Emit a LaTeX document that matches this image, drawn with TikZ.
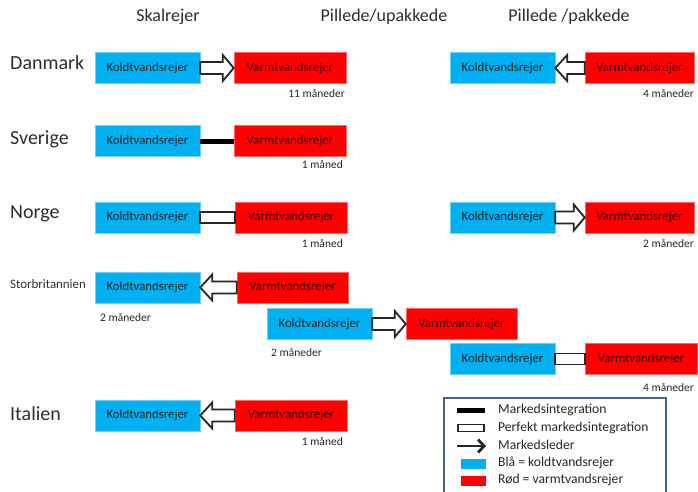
\documentclass[tikz,border=0pt]{standalone}
\usepackage{fontspec}
\setmainfont{Carlito}
\usetikzlibrary{calc,arrows.meta}
\definecolor{cold}{RGB}{0,176,240}
\definecolor{warm}{RGB}{255,0,0}
\definecolor{legline}{RGB}{65,100,150}
\definecolor{hdr}{RGB}{45,45,45}
\tikzset{
  cbox/.style={fill=cold, draw=cold!60!white, line width=0.5pt, minimum width=105pt, minimum height=31pt, inner sep=0pt, font=\fontsize{12.8}{14}\selectfont, text=black!85},
  wbox/.style={fill=warm, draw=warm!60!white, line width=0.5pt, minimum width=112pt, minimum height=31pt, inner sep=0pt, font=\fontsize{12.8}{14}\selectfont, text=black!75!red},
  hdrtext/.style={font=\fontsize{18}{20}\selectfont, text=hdr, inner sep=0pt},
  country/.style={font=\fontsize{20}{22}\selectfont, text=hdr, anchor=west, inner sep=0pt},
  months/.style={font=\fontsize{11.5}{13}\selectfont, text=black!85, inner sep=0pt},
  legtext/.style={font=\fontsize{13.6}{15}\selectfont, text=black!85, anchor=west, inner sep=0pt},
  blockarrow/.style={draw=black!85, fill=white, line width=1.8pt, line join=miter},
  perfect/.style={draw=black!85, fill=white, line width=1.8pt},
  integr/.style={draw=black, line width=5pt},
}
\newcommand{\arrright}[2]{%
  \draw[blockarrow] let \p1=(#1.east), \p2=(#2.west) in
    (\x1,\y1+6pt) -- (\x2-11pt,\y1+6pt) -- (\x2-11pt,\y1+13pt) -- (\x2,\y1)
    -- (\x2-11pt,\y1-13pt) -- (\x2-11pt,\y1-6pt) -- (\x1,\y1-6pt) -- cycle;}
\newcommand{\arrleft}[2]{%
  \draw[blockarrow] let \p1=(#1.east), \p2=(#2.west) in
    (\x2,\y1+6pt) -- (\x1+12pt,\y1+6pt) -- (\x1+12pt,\y1+13pt) -- (\x1,\y1)
    -- (\x1+12pt,\y1-13pt) -- (\x1+12pt,\y1-6pt) -- (\x2,\y1-6pt) -- cycle;}
\newcommand{\perfrect}[2]{%
  \draw[perfect] let \p1=(#1.east), \p2=(#2.west) in
    (\x1,\y1+5.5pt) rectangle (\x2,\y1-5.5pt);}
\begin{document}
\begin{tikzpicture}[x=1pt,y=-1pt]
\useasboundingbox (0,0) rectangle (698,491);
% headers
\node[hdrtext] (h1) at (168,17) {Skalrejer};
\node[hdrtext] (h2) at (384,17) {Pillede/upakkede};
\node[hdrtext] (h3) at (569,17) {Pillede /pakkede};
% countries
\node[country] (dk) at (10,63) {Danmark};
\node[country] (se) at (10,139) {Sverige};
\node[country] (no) at (10,214) {Norge};
\node[country, font=\fontsize{12.9}{14}\selectfont] (uk) at (10,284) {Storbritannien};
\node[country] (it) at (10,414) {Italien};
% Danmark
\node[cbox] (dkc) at (147.5,68) {Koldtvandsrejer};
\node[wbox] (dkw) at (290,68) {Varmtvandsrejer};
\arrright{dkc}{dkw}
\node[months, anchor=east] (dkm) at (345,93) {11 måneder};
\node[cbox] (dkc2) at (502.5,68) {Koldtvandsrejer};
\node[wbox, minimum width=109pt] (dkw2) at (639.5,68) {Varmtvandsrejer};
\arrleft{dkc2}{dkw2}
\node[months, anchor=east] (dkm2) at (694,93) {4 måneder};
% Sverige
\node[cbox] (sec) at (147.5,141) {Koldtvandsrejer};
\node[wbox] (sew) at (290,141) {Varmtvandsrejer};
\draw[integr] (sec.east) -- (sew.west);
\node[months, anchor=east] (sem) at (343,164) {1 måned};
% Norge
\node[cbox] (noc) at (147.5,217.5) {Koldtvandsrejer};
\node[wbox] (now) at (291,217.5) {Varmtvandsrejer};
\perfrect{noc}{now}
\node[months, anchor=east] (nom) at (343,243) {1 måned};
\node[cbox] (noc2) at (502.5,217.5) {Koldtvandsrejer};
\node[wbox, minimum width=109pt] (now2) at (639.5,217.5) {Varmtvandsrejer};
\arrright{noc2}{now2}
\node[months, anchor=east] (nom2) at (694,243) {2 måneder};
% Storbritannien
\node[cbox] (ukc) at (147.5,287.5) {Koldtvandsrejer};
\node[wbox, minimum width=111pt] (ukw) at (292.5,287.5) {Varmtvandsrejer};
\arrleft{ukc}{ukw}
\node[months, anchor=west] (ukm) at (100,317) {2 måneder};
\node[cbox] (ukc2) at (319.5,324) {Koldtvandsrejer};
\node[wbox, minimum width=111pt] (ukw2) at (461.5,324) {Varmtvandsrejer};
\arrright{ukc2}{ukw2}
\node[months, anchor=west] (ukm2) at (271,352) {2 måneder};
\node[cbox] (ukc3) at (502.5,359) {Koldtvandsrejer};
\node[wbox] (ukw3) at (641,359) {Varmtvandsrejer};
\perfrect{ukc3}{ukw3}
\node[months, anchor=east] (ukm3) at (694,387) {4 måneder};
% Italien
\node[cbox] (itc) at (147.5,415.5) {Koldtvandsrejer};
\node[wbox] (itw) at (291,415.5) {Varmtvandsrejer};
\arrleft{itc}{itw}
\node[months, anchor=east] (itm) at (343,441) {1 måned};
% legend
\draw[legline, line width=1.3pt] (444,495) -- (444,398) -- (666,398) -- (666,495);
\draw[integr] (457,410.5) -- (485,410.5);
\node[legtext] (l1) at (498,410) {Markedsintegration};
\draw[perfect, line width=1.6pt] (458,424.5) rectangle (484,431.5);
\node[legtext] (l2) at (498,428) {Perfekt markedsintegration};
\draw[line width=2.8pt, black!85, -{Straight Barb[length=6pt,width=13pt]}] (457,446) -- (486,446);
\node[legtext] (l3) at (498,445) {Markedsleder};
\fill[cold] (461,459) rectangle (486,469);
\node[legtext] (l4) at (498,463) {Blå = koldtvandsrejer};
\fill[warm] (461,476) rectangle (486,486);
\node[legtext] (l5) at (498,480) {Rød = varmtvandsrejer};
\end{tikzpicture}
\end{document}
